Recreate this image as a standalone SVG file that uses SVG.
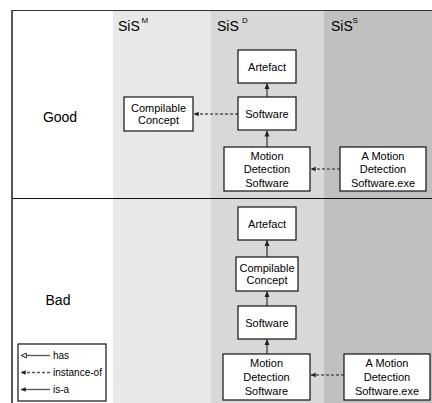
<svg xmlns="http://www.w3.org/2000/svg" width="432" height="403" viewBox="0 0 432 403">
<style>
text{font-family:"Liberation Sans",Arial,sans-serif;fill:#000}
.n rect{fill:#fff;stroke:#111;stroke-width:1.2}
.n text{font-size:11px;text-anchor:middle}
.h{font-size:14px}
.s{font-size:8px}
.lg{font-size:10px}
.isa{stroke:#555;stroke-width:1.5;fill:none;marker-end:url(#fa)}
.inst{stroke:#555;stroke-width:1.3;fill:none;stroke-dasharray:3,2;marker-end:url(#fa)}
</style>
<defs>
<marker id="fa" viewBox="0 0 6 6" refX="5.5" refY="3" markerWidth="4" markerHeight="4" orient="auto" markerUnits="strokeWidth">
<path d="M0,0.5 L6,3 L0,5.5 Z" fill="#222"/>
</marker>
<marker id="oa" viewBox="0 0 8 8" refX="7.5" refY="4" markerWidth="5" markerHeight="5" orient="auto" markerUnits="strokeWidth">
<path d="M1,1 L7,4 L1,7 Z" fill="#fff" stroke="#222" stroke-width="1.2"/>
</marker>
</defs>
<g id="background">
<rect x="0" y="0" width="432" height="403" fill="#fff"/>
<rect x="113" y="11" width="98" height="392" fill="#e8e8e8"/>
<rect x="211" y="11" width="113" height="392" fill="#d8d8d8"/>
<rect x="324" y="11" width="108" height="392" fill="#c0c0c0"/>
<line x1="12" y1="10.5" x2="432" y2="10.5" stroke="#333" stroke-width="1.2"/>
<line x1="12" y1="198.5" x2="432" y2="198.5" stroke="#111" stroke-width="1.2"/>
<line x1="12" y1="10" x2="12" y2="403" stroke="#444" stroke-width="1.8"/>
</g>
<g id="headers">
<text class="h" x="118" y="30.5">SiS</text><text class="s" x="141.5" y="23">M</text>
<text class="h" x="217" y="30.5">SiS</text><text class="s" x="242" y="23">D</text>
<text class="h" x="331" y="30.5">SiS</text><text class="s" x="352.5" y="23">S</text>
<text class="h" x="60" y="122" text-anchor="middle">Good</text>
<text class="h" x="58" y="305" text-anchor="middle">Bad</text>
</g>
<g id="connectors">
<line class="isa" x1="267" y1="147" x2="267" y2="131"/>
<line class="isa" x1="267" y1="97" x2="267" y2="83.5"/>
<line class="inst" x1="238" y1="114" x2="194" y2="114"/>
<line class="inst" x1="340" y1="169" x2="311" y2="169"/>
<line class="isa" x1="267" y1="354" x2="267" y2="339.5"/>
<line class="isa" x1="267" y1="306" x2="267" y2="291.5"/>
<line class="isa" x1="267" y1="257" x2="267" y2="240.5"/>
<line class="inst" x1="344" y1="375" x2="311" y2="375"/>
</g>
<g id="good-artefact" class="n"><rect x="238" y="50" width="58" height="33"/><text x="267" y="70.5">Artefact</text></g>
<g id="good-software" class="n"><rect x="238" y="97" width="58" height="33"/><text x="267" y="117.5">Software</text></g>
<g id="good-compilable" class="n"><rect x="124" y="97" width="69" height="34"/><text x="158.5" y="111.5">Compilable</text><text x="158.5" y="124">Concept</text></g>
<g id="good-motion" class="n"><rect x="224" y="147" width="86" height="44"/><text x="267" y="159.5">Motion</text><text x="267" y="173">Detection</text><text x="267" y="186.5">Software</text></g>
<g id="good-exe" class="n"><rect x="340" y="147" width="86" height="44"/><text x="383" y="159.5">A Motion</text><text x="383" y="173">Detection</text><text x="383" y="186.5">Software.exe</text></g>
<g id="bad-artefact" class="n"><rect x="238" y="207" width="58" height="33"/><text x="267" y="227.5">Artefact</text></g>
<g id="bad-compilable" class="n"><rect x="236" y="257" width="62" height="34"/><text x="267" y="271.5">Compilable</text><text x="267" y="284">Concept</text></g>
<g id="bad-software" class="n"><rect x="238" y="306" width="58" height="33"/><text x="267" y="326.5">Software</text></g>
<g id="bad-motion" class="n"><rect x="223" y="354" width="87" height="46"/><text x="266.5" y="367">Motion</text><text x="266.5" y="381">Detection</text><text x="266.5" y="395">Software</text></g>
<g id="bad-exe" class="n"><rect x="344" y="354" width="86" height="46"/><text x="387" y="367">A Motion</text><text x="387" y="381">Detection</text><text x="387" y="395">Software.exe</text></g>
<g id="legend">
<rect x="18" y="344" width="88" height="57" fill="#fff" stroke="#111" stroke-width="1.2"/>
<line x1="50" y1="355.5" x2="21" y2="355.5" stroke="#555" stroke-width="1.3" marker-end="url(#oa)"/>
<line x1="50" y1="372.5" x2="21" y2="372.5" stroke="#555" stroke-width="1.3" stroke-dasharray="3,2" marker-end="url(#fa)"/>
<line x1="50" y1="389.5" x2="21" y2="389.5" stroke="#555" stroke-width="1.3" marker-end="url(#fa)"/>
<text class="lg" x="53" y="359">has</text>
<text class="lg" x="53" y="376">instance-of</text>
<text class="lg" x="53" y="393">is-a</text>
</g>
</svg>
